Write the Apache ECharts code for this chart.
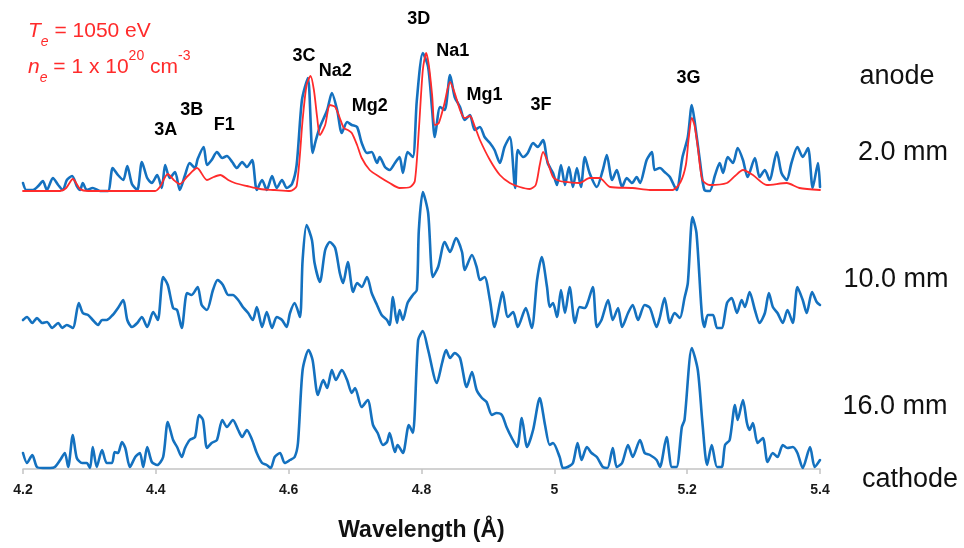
<!DOCTYPE html>
<html>
<head>
<meta charset="utf-8">
<script src="https://cdn.jsdelivr.net/npm/echarts@6/dist/echarts.min.js"></script>
<style>
  html, body { margin: 0; padding: 0; background: #fff; }
  #chart { width: 964px; height: 548px; }
</style>
</head>
<body>
<div id="chart"></div>
<script>
// X-ray spectra (arbitrary intensity units) measured at three distances from the anode,
// plus the simulated spectrum overlaid on the 2.0 mm trace.

// ---- 2.0 mm (measured) ----
const wl2mm = [4.200,4.205,4.215,4.223,4.230,4.236,4.245,4.253,4.260,4.266,4.274,4.281,4.286,4.290,4.296,4.305,4.316,4.328,4.335,4.343,4.351,4.357,4.364,4.372,4.379,4.387,4.394,4.402,4.409,4.414,4.421,4.429,4.436,4.444,4.451,4.459,4.463,4.472,4.477,4.484,4.492,4.500,4.507,4.515,4.522,4.530,4.537,4.545,4.552,4.560,4.567,4.575,4.582,4.590,4.597,4.605,4.612,4.620,4.629,4.636,4.641,4.647,4.658,4.665,4.673,4.680,4.688,4.695,4.703,4.710,4.718,4.725,4.733,4.737,4.745,4.752,4.760,4.767,4.772,4.779,4.787,4.793,4.802,4.810,4.816,4.820,4.828,4.835,4.843,4.850,4.858,4.865,4.873,4.880,4.888,4.895,4.903,4.910,4.918,4.925,4.933,4.941,4.945,4.953,4.960,4.968,4.975,4.983,4.990,4.998,5.004,5.010,5.016,5.022,5.028,5.034,5.040,5.046,5.053,5.064,5.073,5.079,5.087,5.094,5.102,5.109,5.117,5.124,5.129,5.139,5.147,5.151,5.159,5.166,5.174,5.184,5.193,5.201,5.207,5.211,5.219,5.226,5.234,5.242,5.249,5.254,5.261,5.269,5.276,5.284,5.291,5.302,5.309,5.317,5.324,5.335,5.342,5.350,5.357,5.366,5.374,5.382,5.389,5.397,5.400];
const int2mm = [8,1,1,5,10,1,13,6,1,11,15,5,1,8,1,3,0,0,23,16,11,25,7,1,29,13,8,16,3,26,13,19,1,16,28,23,32,44,26,31,39,33,35,29,23,29,24,31,1,11,1,15,3,11,3,7,26,91,113,38,51,64,81,98,81,58,69,66,64,48,38,39,28,34,24,21,28,34,18,39,34,91,138,124,81,54,84,81,116,94,84,71,76,61,64,54,48,41,28,44,54,3,41,34,38,48,44,51,28,18,6,26,6,24,4,23,4,34,18,4,21,36,11,21,4,13,8,14,8,31,39,21,23,19,14,1,34,54,86,71,31,1,0,16,28,18,34,28,43,31,14,33,14,21,11,39,18,11,28,44,34,43,3,28,4];

// ---- simulated spectrum (Te = 1050 eV, ne = 1e20 cm^-3) ----
const wlModel = [4.200,4.256,4.265,4.275,4.286,4.298,4.399,4.406,4.418,4.427,4.436,4.448,4.462,4.477,4.487,4.497,4.509,4.519,4.537,4.557,4.579,4.602,4.612,4.621,4.627,4.633,4.638,4.643,4.647,4.655,4.662,4.670,4.677,4.683,4.689,4.695,4.703,4.710,4.722,4.737,4.752,4.767,4.783,4.790,4.796,4.802,4.807,4.811,4.816,4.820,4.826,4.834,4.843,4.850,4.858,4.865,4.873,4.880,4.888,4.903,4.918,4.933,4.948,4.963,4.972,4.978,4.983,4.989,4.998,5.008,5.019,5.038,5.053,5.068,5.084,5.118,5.144,5.178,5.190,5.198,5.202,5.207,5.211,5.216,5.223,5.234,5.260,5.272,5.284,5.299,5.320,5.350,5.369,5.400];
const intModel = [0,0,3,12,2,0,0,4,17,11,7,15,23,11,14,16,11,8,5,2,1,0,5,71,106,115,101,73,56,66,86,84,73,63,61,58,46,33,21,14,8,3,4,10,61,121,138,126,96,66,68,86,109,98,81,73,75,65,51,31,16,8,4,2,6,26,39,31,14,10,9,8,13,13,4,3,1,1,9,26,51,73,66,44,11,6,8,15,21,16,6,8,3,1];

// ---- 10.0 mm (measured) ----
const wl10mm = [4.200,4.206,4.214,4.221,4.229,4.236,4.244,4.253,4.259,4.266,4.275,4.284,4.290,4.298,4.305,4.313,4.319,4.326,4.335,4.343,4.351,4.357,4.364,4.372,4.379,4.387,4.396,4.403,4.411,4.418,4.426,4.432,4.439,4.447,4.454,4.463,4.469,4.477,4.486,4.493,4.501,4.509,4.516,4.524,4.531,4.539,4.546,4.552,4.560,4.567,4.575,4.582,4.590,4.597,4.602,4.609,4.617,4.621,4.627,4.635,4.639,4.647,4.655,4.662,4.670,4.677,4.682,4.689,4.697,4.703,4.710,4.718,4.725,4.733,4.740,4.748,4.752,4.757,4.763,4.767,4.772,4.779,4.787,4.793,4.796,4.802,4.810,4.817,4.825,4.835,4.843,4.852,4.861,4.865,4.876,4.883,4.888,4.895,4.903,4.910,4.918,4.922,4.930,4.938,4.945,4.957,4.966,4.974,4.981,4.989,4.993,4.998,5.004,5.010,5.016,5.023,5.031,5.038,5.046,5.050,5.058,5.064,5.071,5.081,5.088,5.096,5.102,5.111,5.118,5.126,5.136,5.144,5.154,5.159,5.166,5.174,5.181,5.189,5.196,5.201,5.208,5.214,5.222,5.226,5.231,5.239,5.245,5.252,5.260,5.267,5.275,5.282,5.287,5.294,5.302,5.309,5.317,5.323,5.329,5.336,5.344,5.351,5.359,5.366,5.374,5.380,5.388,5.395,5.400];
const int10mm = [8,11,5,10,5,6,0,5,0,3,0,25,15,13,8,3,8,8,13,20,28,8,1,5,11,1,16,8,51,43,20,18,0,35,33,41,23,18,38,48,43,33,33,28,21,15,8,21,1,16,0,11,8,1,15,25,11,68,103,88,65,46,78,86,80,55,45,66,36,45,41,51,35,23,13,8,3,31,5,18,8,25,33,38,98,136,115,51,61,86,76,90,76,58,73,61,48,51,28,1,25,36,11,16,1,20,0,48,71,41,21,25,11,38,15,41,5,21,20,25,41,1,8,28,8,20,1,15,23,8,23,20,1,11,30,5,15,10,30,45,111,95,15,1,13,13,0,0,25,30,15,28,21,36,18,5,15,35,21,15,5,18,5,41,28,15,36,26,23];

// ---- 16.0 mm (measured) ----
const wl16mm = [4.200,4.206,4.214,4.221,4.230,4.241,4.248,4.256,4.263,4.268,4.275,4.281,4.289,4.296,4.301,4.305,4.311,4.319,4.326,4.334,4.338,4.343,4.349,4.354,4.361,4.369,4.376,4.381,4.387,4.394,4.402,4.411,4.418,4.426,4.432,4.439,4.444,4.451,4.459,4.465,4.471,4.477,4.484,4.492,4.500,4.507,4.516,4.524,4.530,4.537,4.545,4.552,4.560,4.567,4.573,4.579,4.587,4.594,4.602,4.609,4.614,4.621,4.630,4.636,4.644,4.652,4.658,4.665,4.671,4.680,4.688,4.695,4.700,4.710,4.719,4.727,4.734,4.742,4.748,4.752,4.760,4.764,4.772,4.781,4.787,4.795,4.802,4.810,4.823,4.831,4.837,4.843,4.850,4.858,4.868,4.876,4.883,4.891,4.898,4.906,4.913,4.921,4.928,4.936,4.944,4.951,4.959,4.968,4.978,4.986,4.993,4.998,5.008,5.013,5.020,5.028,5.035,5.041,5.049,5.056,5.064,5.073,5.080,5.088,5.094,5.102,5.111,5.118,5.129,5.136,5.144,5.154,5.159,5.169,5.177,5.184,5.192,5.196,5.207,5.216,5.223,5.230,5.237,5.245,5.252,5.257,5.264,5.272,5.276,5.284,5.290,5.294,5.299,5.306,5.314,5.321,5.329,5.336,5.344,5.351,5.359,5.366,5.374,5.385,5.392,5.400];
const int16mm = [16,6,14,2,1,1,2,9,16,2,34,11,6,6,1,22,2,19,6,6,17,16,27,21,2,12,16,2,22,7,4,12,47,29,22,12,21,29,32,54,49,21,26,29,49,42,49,39,32,39,29,16,6,4,1,12,16,6,9,12,26,99,119,109,74,89,81,99,89,99,89,76,81,62,69,44,36,24,27,36,17,24,16,44,36,129,138,119,86,106,119,111,116,111,82,97,79,71,67,54,56,54,42,31,22,51,22,39,71,44,24,26,12,1,2,6,26,9,22,16,12,2,1,21,2,6,24,12,29,16,14,9,2,32,2,2,42,49,121,99,46,4,24,2,2,24,29,64,49,69,46,39,46,26,31,7,16,12,24,21,22,16,1,22,2,9];

// vertical shift applied to each trace so the three spectra stack
const stackShift = { mm2: 278, mm10: 141, mm16: 0 };

// peak identifications: name, wavelength, label height
const peakNames = ['3A', '3B', 'F1', '3C', 'Na2', 'Mg2', '3D', 'Na1', 'Mg1', '3F', '3G'];
const peakWl    = [4.415, 4.454, 4.503, 4.623, 4.670, 4.722, 4.796, 4.847, 4.895, 4.980, 5.202];
const peakLevel = [339, 359, 344, 413, 398, 363, 450, 418, 374, 364, 391];

const xTicks = { min: 4.2, max: 5.4, step: 0.2 };

function toPairs(wl, vals, shift) {
  return wl.map((w, i) => [w, vals[i] + shift]);
}

const BLUE = '#1471BF';
const RED = '#FF2B2B';
const FONT = 'Liberation Sans, Arial, sans-serif';

const chart = echarts.init(document.getElementById('chart'), null, { renderer: 'canvas' });

const traceStyle = (color, width) => ({
  type: 'line',
  showSymbol: false,
  symbol: 'none',
  smooth: 0.25,
  lineStyle: { color: color, width: width, join: 'round', cap: 'round' },
  silent: true,
  animation: false
});

chart.setOption({
  animation: false,
  backgroundColor: '#ffffff',
  grid: { left: 23, right: 144, top: 9, bottom: 79 },
  xAxis: {
    type: 'value',
    min: xTicks.min,
    max: xTicks.max,
    interval: xTicks.step,
    axisLine: { show: true, lineStyle: { color: '#C4C4C4', width: 1.5 } },
    axisTick: { show: true, length: 5, lineStyle: { color: '#C4C4C4', width: 1.5 } },
    splitLine: { show: false },
    axisLabel: {
      color: '#1a1a1a',
      fontWeight: 'bold',
      fontSize: 14,
      fontFamily: FONT,
      margin: 14
    },
    name: 'Wavelength (Å)',
    nameLocation: 'middle',
    nameGap: 50,
    nameTextStyle: {
      color: '#111',
      fontWeight: 'bold',
      fontSize: 23,
      fontFamily: FONT
    }
  },
  yAxis: { type: 'value', min: 0, max: 460, show: false },
  series: [
    Object.assign(traceStyle(BLUE, 2.6), { name: '16.0 mm', data: toPairs(wl16mm, int16mm, stackShift.mm16) }),
    Object.assign(traceStyle(BLUE, 2.6), { name: '10.0 mm', data: toPairs(wl10mm, int10mm, stackShift.mm10) }),
    Object.assign(traceStyle(BLUE, 2.6), { name: '2.0 mm', data: toPairs(wl2mm, int2mm, stackShift.mm2) }),
    Object.assign(traceStyle(RED, 1.8), { name: 'model', z: 5, data: toPairs(wlModel, intModel, stackShift.mm2) }),
    {
      type: 'scatter',
      name: 'lines',
      symbol: 'circle',
      symbolSize: 0,
      silent: true,
      z: 6,
      itemStyle: { opacity: 1, color: 'rgba(0,0,0,0)' },
      data: peakNames.map((n, i) => ({ name: n, value: [peakWl[i], peakLevel[i]] })),
      label: {
        show: true,
        position: 'inside',
        formatter: '{b}',
        color: '#000000',
        opacity: 1,
        textBorderWidth: 0,
        fontWeight: 'bold',
        fontSize: 18,
        fontFamily: FONT
      }
    }
  ],
  graphic: [
    {
      type: 'text', left: 28, top: 21, silent: true,
      style: {
        text: '{it|T}{sub|e}{n| = 1050 eV}\n{it|n}{sub|e}{n| = 1 x 10}{sup|20}{n| cm}{sup|-3}',
        fill: RED,
        rich: {
          it: { fill: RED, fontSize: 21, fontStyle: 'italic', fontFamily: FONT, lineHeight: 36 },
          n: { fill: RED, fontSize: 21, fontFamily: FONT, lineHeight: 36 },
          sub: { fill: RED, fontSize: 14, fontStyle: 'italic', fontFamily: FONT, lineHeight: 32, verticalAlign: 'bottom' },
          sup: { fill: RED, fontSize: 14, fontFamily: FONT, lineHeight: 30, verticalAlign: 'top' }
        }
      }
    },
    { type: 'text', x: 897, y: 77, silent: true,
      style: { text: 'anode', fill: '#111', font: '27px "Liberation Sans", Arial, sans-serif', textAlign: 'center', textVerticalAlign: 'middle' } },
    { type: 'text', x: 903, y: 153, silent: true,
      style: { text: '2.0 mm', fill: '#111', font: '27px "Liberation Sans", Arial, sans-serif', textAlign: 'center', textVerticalAlign: 'middle' } },
    { type: 'text', x: 896, y: 280, silent: true,
      style: { text: '10.0 mm', fill: '#111', font: '27px "Liberation Sans", Arial, sans-serif', textAlign: 'center', textVerticalAlign: 'middle' } },
    { type: 'text', x: 895, y: 407, silent: true,
      style: { text: '16.0 mm', fill: '#111', font: '27px "Liberation Sans", Arial, sans-serif', textAlign: 'center', textVerticalAlign: 'middle' } },
    { type: 'text', x: 910, y: 480, silent: true,
      style: { text: 'cathode', fill: '#111', font: '27px "Liberation Sans", Arial, sans-serif', textAlign: 'center', textVerticalAlign: 'middle' } }
  ]
});
</script>
</body>
</html>
